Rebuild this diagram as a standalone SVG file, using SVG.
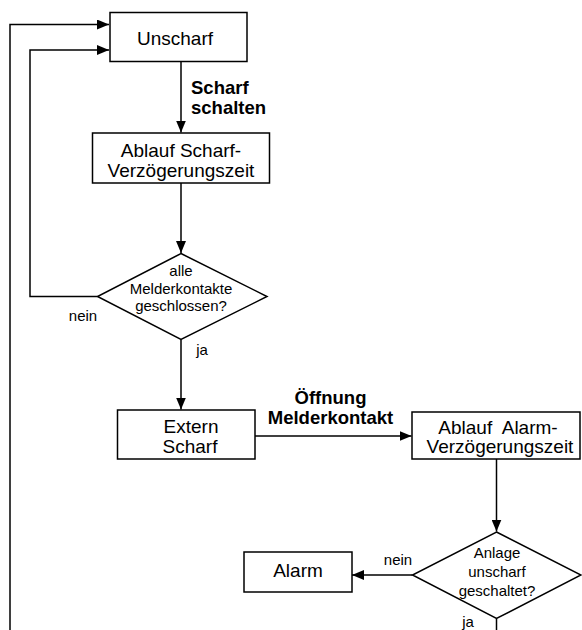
<svg xmlns="http://www.w3.org/2000/svg" width="582" height="630" viewBox="0 0 582 630">
<defs>
<marker id="arr" viewBox="0 0 12 10" refX="12" refY="5" markerWidth="12" markerHeight="10" markerUnits="userSpaceOnUse" orient="auto">
<path d="M0,0 L12,5 L0,10 Z" fill="#000"/>
</marker>
<style>
.box{fill:#fff;stroke:#000;stroke-width:1.5}
.ln{fill:none;stroke:#000;stroke-width:1.5}
.t{font-family:"Liberation Sans",Arial,sans-serif;font-size:19px;fill:#000;text-anchor:middle}
.s{font-family:"Liberation Sans",Arial,sans-serif;font-size:15px;fill:#000;text-anchor:middle}
.b{font-family:"Liberation Sans",Arial,sans-serif;font-size:18.5px;font-weight:bold;fill:#000}
</style>
</defs>
<rect width="582" height="630" fill="#fff"/>
<g id="connectors">
<polyline class="ln" points="10,630 10,24.5 109,24.5" marker-end="url(#arr)"/>
<polyline class="ln" points="97.5,296.5 30,296.5 30,50 109,50" marker-end="url(#arr)"/>
<line class="ln" x1="181" y1="61.5" x2="181" y2="132.5" marker-end="url(#arr)"/>
<line class="ln" x1="181" y1="183" x2="181" y2="253" marker-end="url(#arr)"/>
<line class="ln" x1="181" y1="339.5" x2="181" y2="409.5" marker-end="url(#arr)"/>
<line class="ln" x1="255" y1="436" x2="411.5" y2="436" marker-end="url(#arr)"/>
<line class="ln" x1="496.5" y1="459" x2="496.5" y2="531.5" marker-end="url(#arr)"/>
<line class="ln" x1="412.5" y1="575" x2="352" y2="575" marker-end="url(#arr)"/>
<line class="ln" x1="496.5" y1="618.5" x2="496.5" y2="630"/>
<text class="b" x="191" y="94">Scharf</text>
<text class="b" x="191" y="114">schalten</text>
<text class="b" x="330.5" y="403.5" text-anchor="middle">Öffnung</text>
<text class="b" x="330.5" y="423.5" text-anchor="middle">Melderkontakt</text>
<text class="s" x="83" y="320.5">nein</text>
<text class="s" x="202" y="354.5">ja</text>
<text class="s" x="398" y="565">nein</text>
<text class="s" x="468" y="627">ja</text>
</g>
<g id="unscharf">
<rect class="box" x="110" y="12.5" width="137" height="49"/>
<text class="t" x="175" y="44.5">Unscharf</text>
</g>
<g id="ablauf-scharf">
<rect class="box" x="92.5" y="133" width="177" height="50"/>
<text class="t" x="181" y="157">Ablauf Scharf-</text>
<text class="t" x="181" y="176.5">Verzögerungszeit</text>
</g>
<g id="melderkontakte">
<polygon class="box" points="181,253.5 267,296.5 181,339.5 97.5,296.5"/>
<text class="s" x="181" y="275.5">alle</text>
<text class="s" x="181" y="293.5">Melderkontakte</text>
<text class="s" x="181" y="311">geschlossen?</text>
</g>
<g id="extern-scharf">
<rect class="box" x="117.5" y="410" width="137.5" height="49"/>
<text class="t" x="191" y="432.5">Extern</text>
<text class="t" x="190" y="453">Scharf</text>
</g>
<g id="ablauf-alarm">
<rect class="box" x="412" y="412" width="168" height="47"/>
<text class="t" x="498" y="433.5" xml:space="preserve">Ablauf  Alarm-</text>
<text class="t" x="500" y="452.5">Verzögerungszeit</text>
</g>
<g id="anlage-unscharf">
<polygon class="box" points="496.5,532 581,575 496.5,618.5 412.5,575"/>
<text class="s" x="497" y="557.5">Anlage</text>
<text class="s" x="497" y="576.5">unscharf</text>
<text class="s" x="497" y="596">geschaltet?</text>
</g>
<g id="alarm">
<rect class="box" x="244" y="552" width="108" height="40"/>
<text class="t" x="298" y="577">Alarm</text>
</g>
</svg>
